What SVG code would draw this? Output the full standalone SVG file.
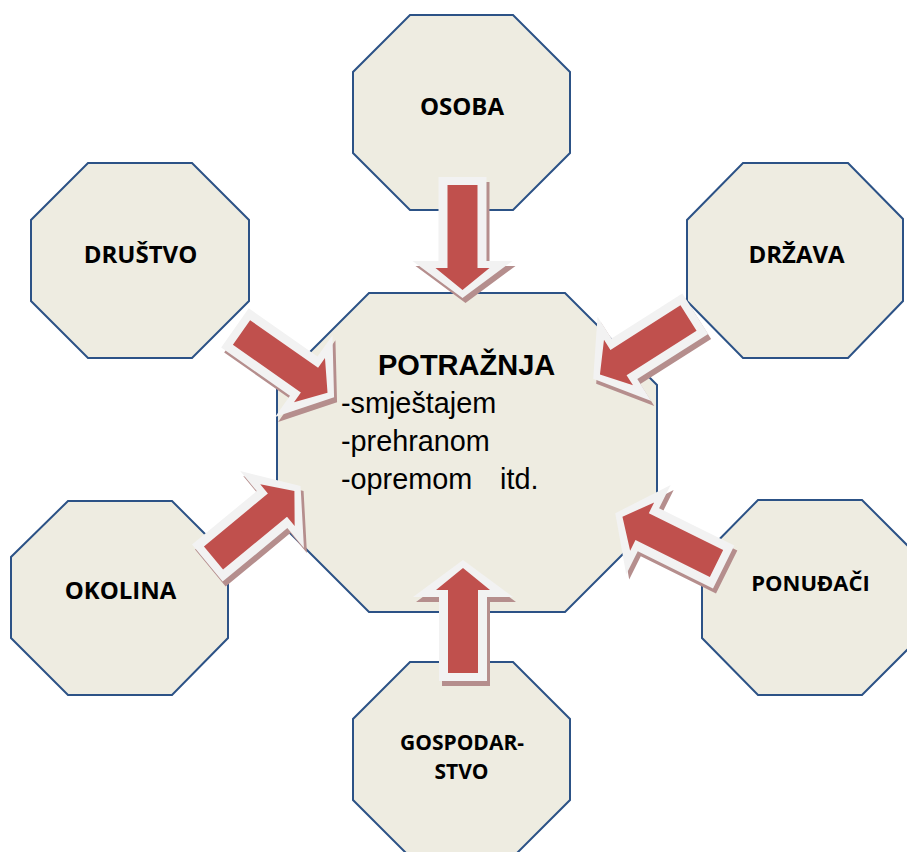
<svg xmlns="http://www.w3.org/2000/svg" xmlns:xlink="http://www.w3.org/1999/xlink" width="907" height="852" viewBox="0 0 907 852">
<style>
.oct{fill:#eeece1;stroke:#2c5286;stroke-width:2;stroke-linejoin:miter}
.lbl{font-family:"Open Sans","Liberation Sans",sans-serif;font-weight:700;fill:#000;text-anchor:middle}
.main{font-family:"Liberation Sans",Arial,sans-serif;fill:#000}
.sh{fill:#b58e8d}
.ol{fill:#f2f2f2}
.rd{fill:#c0504d}
</style>
<defs>
<path id="aOut" d="M-8,-24 L76,-24 L76,-50 L113,0 L76,50 L76,24 L-8,24 Z"/>
<path id="aRed" d="M0,-15 L83,-15 L83,-27 L105,0 L83,27 L83,15 L0,15 Z"/>
</defs>
<rect width="907" height="852" fill="#ffffff"/>
<g id="node-potraznja">
<polygon class="oct" points="369,293 565,293 657,385 657,520 565,612 369,612 277,520 277,385"/>
</g>
<g id="node-osoba">
<polygon class="oct" points="410,15 513,15 570,72 570,153 513,210 410,210 353,153 353,72"/>
<text class="lbl" x="462" y="115" font-size="24">OSOBA</text>
</g>
<g id="node-drustvo">
<polygon class="oct" points="88,163 192,163 249,220 249,301 192,358 88,358 31,301 31,220"/>
<text class="lbl" x="140.5" y="263" font-size="24">DRUŠTVO</text>
</g>
<g id="node-drzava">
<polygon class="oct" points="743,163 848,163 903,219 903,301 848,358 743,358 687,301 687,220"/>
<text class="lbl" x="796.5" y="263" font-size="24">DRŽAVA</text>
</g>
<g id="node-okolina">
<polygon class="oct" points="68,501 172,501 228,557 228,638 172,695 68,695 11,638 11,557"/>
<text class="lbl" x="120.5" y="599" font-size="24">OKOLINA</text>
</g>
<g id="node-ponudaci">
<polygon class="oct" points="758,500 862,500 919,557 919,638 862,695 758,695 702,638 702,557"/>
<text class="lbl" x="810.5" y="591" font-size="22">PONUĐAČI</text>
</g>
<g id="node-gospodarstvo">
<polygon class="oct" points="410,662 513,662 570,719 570,800 513,857 410,857 353,800 353,719"/>
<text class="lbl" x="462" y="750" font-size="21">GOSPODAR-</text>
<text class="lbl" x="461.5" y="779" font-size="21">STVO</text>
</g>
<g id="connectors">
<g id="arrow-osoba">
<use xlink:href="#aOut" class="sh" transform="translate(465.5,190) rotate(90)"/>
<use xlink:href="#aOut" class="ol" transform="translate(462.5,185) rotate(90)"/>
<use xlink:href="#aRed" class="rd" transform="translate(462.5,185) rotate(90)"/>
</g>
<g id="arrow-gospodarstvo">
<use xlink:href="#aOut" class="sh" transform="translate(466,678) rotate(-90)"/>
<use xlink:href="#aOut" class="ol" transform="translate(463,673) rotate(-90)"/>
<use xlink:href="#aRed" class="rd" transform="translate(463,673) rotate(-90)"/>
</g>
<g id="arrow-drustvo">
<use xlink:href="#aOut" class="sh" transform="translate(244.5,337.5) rotate(35)"/>
<use xlink:href="#aOut" class="ol" transform="translate(241.5,332.5) rotate(35)"/>
<use xlink:href="#aRed" class="rd" transform="translate(241.5,332.5) rotate(35)"/>
</g>
<g id="arrow-drzava">
<use xlink:href="#aOut" class="sh" transform="translate(691.5,323) rotate(147.5)"/>
<use xlink:href="#aOut" class="ol" transform="translate(688.5,318) rotate(147.5)"/>
<use xlink:href="#aRed" class="rd" transform="translate(688.5,318) rotate(147.5)"/>
</g>
<g id="arrow-ponudaci">
<use xlink:href="#aOut" class="sh" transform="translate(719.5,568.5) rotate(206.4)"/>
<use xlink:href="#aOut" class="ol" transform="translate(716.5,563.5) rotate(206.4)"/>
<use xlink:href="#aRed" class="rd" transform="translate(716.5,563.5) rotate(206.4)"/>
</g>
<g id="arrow-okolina">
<use xlink:href="#aOut" class="sh" transform="translate(216.5,563) rotate(-39.6)"/>
<use xlink:href="#aOut" class="ol" transform="translate(213.5,558) rotate(-39.6)"/>
<use xlink:href="#aRed" class="rd" transform="translate(213.5,558) rotate(-39.6)"/>
</g>
</g>
<g id="potraznja-text">
<text class="main" x="378" y="375" font-size="29" font-weight="700">POTRAŽNJA</text>
<text class="main" x="341" y="413" font-size="28.8">-smještajem</text>
<text class="main" x="341" y="451" font-size="28.8">-prehranom</text>
<text class="main" y="489" font-size="28.8"><tspan x="341">-opremom</tspan><tspan x="500">itd.</tspan></text>
</g>
</svg>
